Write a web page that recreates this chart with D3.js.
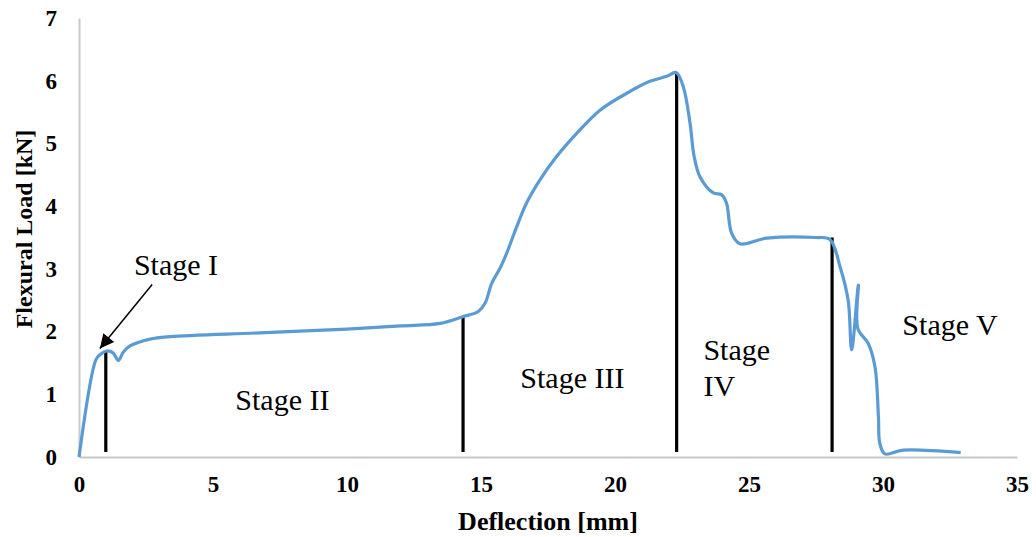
<!DOCTYPE html>
<html>
<head>
<meta charset="utf-8">
<script src="https://cdn.jsdelivr.net/npm/d3@7"></script>
<style>
  body { margin: 0; background: #fff; }
  svg text { font-family: "Liberation Serif", "Times New Roman", serif; }
</style>
</head>
<body>
<div id="wrapper"></div>
<script>
// load-deflection curve
const deflection = [0, 0.63, 0.78, 1.03, 1.27, 1.47, 1.65, 1.9, 2.65, 3.4, 6.75, 10, 12, 13.47, 14.34, 14.9, 15.15, 15.4, 15.71, 15.96, 16.33, 16.7, 17.2, 17.82, 18.57, 19.44, 20.44, 21.3, 21.93, 22.28, 22.55, 22.8, 22.95, 23.17, 23.67, 23.98, 24.16, 24.35, 24.66, 25.66, 27.5, 28.02, 28.4, 28.7, 28.83, 29.08, 29.06, 29.45, 29.7, 29.83, 29.88, 30.07, 30.76, 32.9]
const load = [0, 1.55, 1.63, 1.69, 1.66, 1.54, 1.67, 1.77, 1.88, 1.92, 1.98, 2.04, 2.09, 2.13, 2.24, 2.32, 2.45, 2.77, 3.01, 3.25, 3.67, 4.05, 4.42, 4.79, 5.16, 5.53, 5.8, 5.99, 6.07, 6.13, 5.9, 5.32, 4.8, 4.47, 4.21, 4.18, 4.05, 3.57, 3.4, 3.49, 3.5, 3.47, 3.03, 2.5, 1.71, 2.74, 2.05, 1.81, 1.44, 0.64, 0.22, 0.05, 0.11, 0.07]

// stage boundaries (x, top of marker)
const stageX = [1.0, 14.33, 22.3, 28.1]
const stageTop = [1.68, 2.24, 6.12, 3.5]

// stage labels, y = baseline of first line
const stageLabels = [
  { lines: ["Stage I"], x: 2.05, y: 2.9, anchor: "start" },
  { lines: ["Stage II"], x: 7.59, y: 0.75, anchor: "middle" },
  { lines: ["Stage III"], x: 18.41, y: 1.1, anchor: "middle" },
  { lines: ["Stage", "IV"], x: 23.3, y: 1.55, anchor: "start" },
  { lines: ["Stage V"], x: 32.5, y: 1.95, anchor: "middle" },
]

const xTicks = [0, 5, 10, 15, 20, 25, 30, 35]
const yTicks = [0, 1, 2, 3, 4, 5, 6, 7]

const width = 1036
const height = 537
const margin = { top: 18, right: 19, bottom: 80, left: 79 }
const boundedWidth = width - margin.left - margin.right
const boundedHeight = height - margin.top - margin.bottom

const svg = d3.select("#wrapper").append("svg")
  .attr("width", width)
  .attr("height", height)

const defs = svg.append("defs")
defs.append("marker")
  .attr("id", "arrow")
  .attr("viewBox", "0 0 10 10")
  .attr("refX", 10).attr("refY", 5)
  .attr("markerWidth", 18).attr("markerHeight", 14)
  .attr("markerUnits", "userSpaceOnUse")
  .attr("orient", "auto")
  .append("path")
  .attr("d", "M0,0 L10,5 L0,10 Z")
  .attr("fill", "#000")

const bounds = svg.append("g")
  .attr("transform", `translate(${margin.left},${margin.top})`)

const xScale = d3.scaleLinear().domain([0, 35]).range([0, boundedWidth])
const yScale = d3.scaleLinear().domain([0, 7]).range([boundedHeight, 0])

// axes
const xAxis = bounds.append("g")
  .attr("transform", `translate(0,${boundedHeight})`)
  .call(d3.axisBottom(xScale).tickValues(xTicks).tickFormat(d3.format("d")).tickSize(0).tickPadding(19))
xAxis.select(".domain").attr("stroke", "#c8c8c8").attr("stroke-width", 2)
xAxis.selectAll("text")
  .attr("font-size", 23).attr("font-weight", "bold").attr("fill", "#000")
  .style("font-family", "'Liberation Serif', serif")

const yAxis = bounds.append("g")
  .call(d3.axisLeft(yScale).tickValues(yTicks).tickFormat(d3.format("d")).tickSize(0).tickPadding(22))
yAxis.select(".domain").attr("stroke", "#c8c8c8").attr("stroke-width", 2)
yAxis.selectAll("text")
  .attr("font-size", 23).attr("font-weight", "bold").attr("fill", "#000")
  .style("font-family", "'Liberation Serif', serif")

// axis titles
svg.append("text")
  .attr("x", 548)
  .attr("y", 530)
  .attr("text-anchor", "middle")
  .attr("font-size", 26).attr("font-weight", "bold")
  .text("Deflection [mm]")

svg.append("text")
  .attr("transform", "translate(32,229) rotate(-90)")
  .attr("text-anchor", "middle")
  .attr("font-size", 24).attr("font-weight", "bold")
  .text("Flexural Load [kN]")

// stage boundary markers
bounds.selectAll(".stage-line")
  .data(stageX)
  .join("line")
  .attr("class", "stage-line")
  .attr("x1", d => xScale(d))
  .attr("x2", d => xScale(d))
  .attr("y1", (d, i) => yScale(stageTop[i]))
  .attr("y2", yScale(0.08))
  .attr("stroke", "#000")
  .attr("stroke-width", 3.2)

// curve
const lineGenerator = d3.line()
  .x((d, i) => xScale(deflection[i]))
  .y((d, i) => yScale(load[i]))
  .curve(d3.curveCatmullRom.alpha(0.5))

bounds.append("path")
  .attr("d", lineGenerator(deflection))
  .attr("fill", "none")
  .attr("stroke", "#5b9bd5")
  .attr("stroke-width", 3.2)
  .attr("stroke-linejoin", "round")

// arrow pointing at the end of stage I
bounds.append("line")
  .attr("x1", xScale(2.73)).attr("y1", yScale(2.75))
  .attr("x2", xScale(0.78)).attr("y2", yScale(1.73))
  .attr("stroke", "#000")
  .attr("stroke-width", 1.5)
  .attr("marker-end", "url(#arrow)")

// stage labels
stageLabels.forEach(s => {
  const t = bounds.append("text")
    .attr("x", xScale(s.x))
    .attr("y", yScale(s.y))
    .attr("text-anchor", s.anchor)
    .attr("font-size", 30)
  s.lines.forEach((l, i) => {
    t.append("tspan")
      .attr("x", xScale(s.x))
      .attr("dy", i === 0 ? 0 : 36)
      .text(l)
  })
})
</script>
</body>
</html>
